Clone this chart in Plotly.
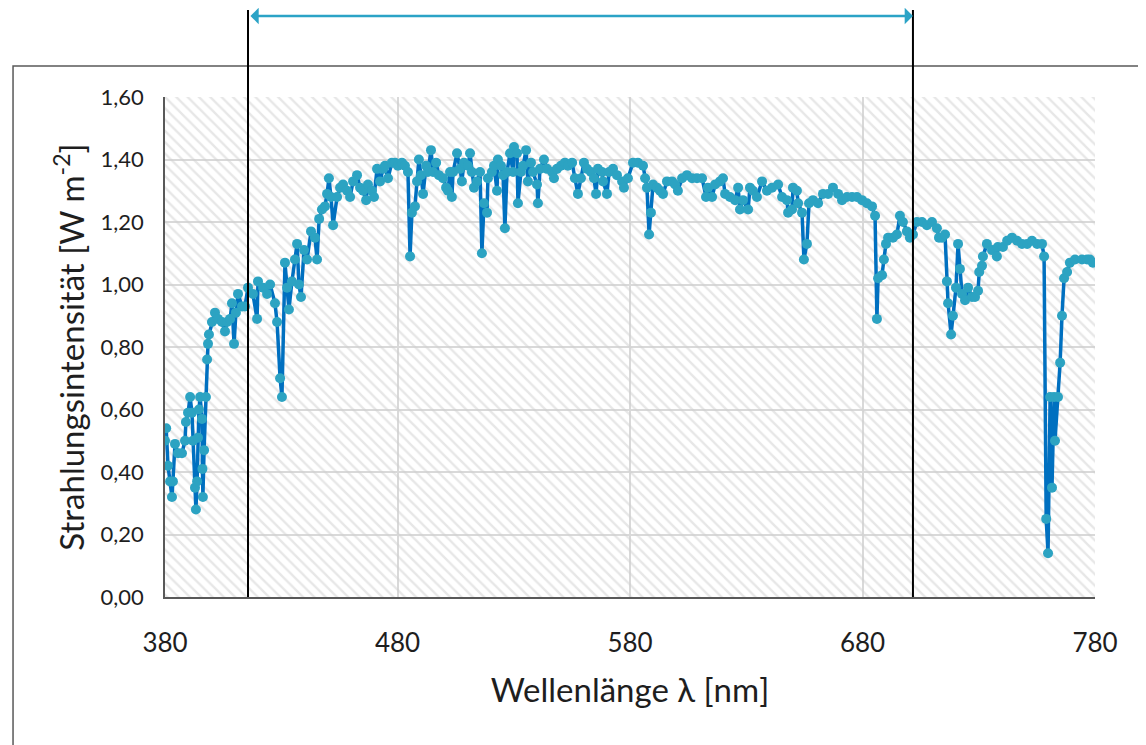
import plotly.graph_objects as go

# Wavelength [nm] and radiation intensity [W m^-2]
wavelength = [
    380.0, 380.5, 381.3, 382.2, 383.0, 383.4, 384.3, 385.6, 387.3, 388.6, 389.0, 389.9,
    390.8, 391.6, 392.0, 392.9, 393.3, 393.8, 394.2, 394.6, 395.1, 395.9, 396.1, 396.3,
    396.8, 397.6, 398.1, 398.5, 398.9, 400.2, 401.5, 402.8, 404.5, 405.8, 406.7, 408.0,
    408.8, 409.7, 410.5, 411.4, 413.1, 414.4, 415.7, 417.8, 419.6, 420.0, 422.2, 423.9,
    425.2, 427.3, 428.2, 429.5, 430.3, 431.6, 432.5, 433.3, 434.6, 435.9, 436.8, 437.6,
    438.5, 439.8, 441.1, 442.8, 444.5, 445.4, 446.3, 447.5, 448.8, 449.7, 450.5, 451.4,
    452.3, 454.0, 455.3, 456.6, 458.3, 459.6, 460.9, 462.6, 463.9, 465.2, 466.5, 467.3,
    469.0, 469.9, 471.2, 472.5, 473.8, 474.6, 475.9, 477.6, 478.9, 480.2, 481.9, 483.2,
    484.5, 485.4, 486.2, 487.5, 488.4, 489.2, 490.1, 491.0, 492.3, 493.1, 494.4, 495.3,
    496.6, 497.8, 499.6, 500.9, 501.7, 502.6, 503.4, 503.9, 505.6, 506.9, 507.7, 508.6,
    510.3, 511.2, 512.0, 512.9, 514.2, 515.5, 516.3, 517.2, 518.5, 518.9, 520.6, 521.5,
    522.8, 523.2, 524.5, 525.4, 526.2, 527.1, 528.4, 529.7, 530.1, 531.4, 531.8, 533.1,
    534.0, 535.3, 536.1, 537.4, 538.3, 540.0, 540.4, 541.3, 543.0, 544.3, 546.5, 547.3,
    548.6, 550.3, 552.0, 553.3, 555.1, 556.3, 557.6, 558.9, 560.2, 561.5, 563.2, 564.5,
    565.4, 566.2, 568.0, 568.4, 570.1, 571.0, 572.7, 574.4, 576.6, 577.4, 579.1, 581.3,
    583.4, 585.6, 586.5, 587.3, 588.2, 589.0, 589.9, 591.6, 592.9, 594.2, 595.9, 598.1,
    599.4, 600.6, 602.4, 604.5, 606.7, 608.8, 611.0, 612.7, 613.5, 615.3, 616.6, 618.7,
    620.0, 620.9, 623.0, 625.2, 626.5, 627.3, 628.6, 630.8, 631.6, 632.9, 634.6, 636.8,
    638.9, 641.1, 643.7, 645.4, 647.5, 648.0, 649.7, 650.1, 651.8, 652.3, 654.0, 654.8,
    656.1, 657.0, 658.7, 660.9, 663.0, 665.2, 667.3, 669.5, 671.2, 673.3, 675.5, 677.6,
    679.8, 681.9, 684.1, 685.4, 686.2, 686.7, 688.4, 689.2, 690.1, 691.0, 693.1, 694.8,
    696.1, 697.4, 699.1, 700.4, 701.7, 703.4, 705.6, 707.7, 709.9, 712.0, 712.9, 714.2,
    715.5, 716.3, 716.8, 718.1, 718.9, 720.2, 721.1, 721.9, 722.8, 724.1, 725.4, 727.1,
    728.4, 729.7, 730.2, 731.4, 731.8, 733.5, 735.7, 737.8, 738.2, 740.4, 742.2, 744.3,
    746.5, 748.6, 750.8, 752.9, 755.1, 757.2, 758.1, 759.0, 759.8, 760.7, 761.5, 762.4,
    762.8, 764.1, 765.0, 765.8, 766.7, 768.0, 769.2, 771.4, 774.4, 776.6, 777.8, 779.1,
]
intensity = [
    0.50, 0.54, 0.42, 0.37, 0.32, 0.37, 0.49, 0.46, 0.46, 0.50, 0.56, 0.59,
    0.64, 0.59, 0.50, 0.35, 0.28, 0.37, 0.51, 0.60, 0.64, 0.57, 0.41, 0.32,
    0.47, 0.64, 0.76, 0.81, 0.84, 0.88, 0.91, 0.89, 0.88, 0.85, 0.88, 0.89,
    0.94, 0.81, 0.91, 0.97, 0.93, 0.93, 0.99, 0.97, 0.89, 1.01, 0.99, 0.97,
    1.00, 0.94, 0.88, 0.70, 0.64, 1.07, 0.99, 0.92, 1.01, 1.08, 1.13, 1.00,
    0.96, 1.11, 1.08, 1.17, 1.15, 1.08, 1.21, 1.24, 1.25, 1.29, 1.34, 1.28,
    1.19, 1.28, 1.31, 1.32, 1.30, 1.28, 1.33, 1.35, 1.31, 1.30, 1.27, 1.32,
    1.30, 1.28, 1.37, 1.33, 1.37, 1.38, 1.34, 1.39, 1.39, 1.38, 1.39, 1.38,
    1.36, 1.09, 1.23, 1.25, 1.33, 1.40, 1.35, 1.29, 1.38, 1.36, 1.43, 1.36,
    1.39, 1.35, 1.34, 1.31, 1.30, 1.36, 1.28, 1.36, 1.42, 1.37, 1.33, 1.39,
    1.38, 1.42, 1.36, 1.31, 1.33, 1.36, 1.10, 1.26, 1.23, 1.34, 1.36, 1.38,
    1.30, 1.40, 1.38, 1.35, 1.18, 1.36, 1.42, 1.36, 1.44, 1.42, 1.26, 1.36,
    1.38, 1.43, 1.33, 1.39, 1.36, 1.32, 1.26, 1.37, 1.40, 1.37, 1.36, 1.34,
    1.37, 1.38, 1.39, 1.38, 1.39, 1.34, 1.29, 1.34, 1.39, 1.37, 1.36, 1.34,
    1.29, 1.37, 1.36, 1.33, 1.29, 1.36, 1.37, 1.35, 1.33, 1.31, 1.34, 1.39,
    1.39, 1.38, 1.34, 1.31, 1.16, 1.23, 1.32, 1.31, 1.30, 1.29, 1.33, 1.33,
    1.32, 1.30, 1.34, 1.35, 1.34, 1.34, 1.34, 1.28, 1.31, 1.28, 1.32, 1.33,
    1.34, 1.29, 1.28, 1.27, 1.31, 1.24, 1.27, 1.24, 1.31, 1.30, 1.28, 1.33,
    1.30, 1.31, 1.32, 1.28, 1.27, 1.23, 1.24, 1.31, 1.30, 1.26, 1.23, 1.08,
    1.13, 1.26, 1.27, 1.26, 1.29, 1.29, 1.31, 1.29, 1.27, 1.28, 1.28, 1.28,
    1.27, 1.26, 1.25, 1.22, 0.89, 1.02, 1.03, 1.08, 1.13, 1.15, 1.15, 1.16,
    1.22, 1.20, 1.17, 1.15, 1.16, 1.20, 1.20, 1.19, 1.20, 1.18, 1.15, 1.15,
    1.16, 1.01, 0.94, 0.84, 0.90, 0.99, 1.13, 1.05, 0.97, 0.95, 0.99, 0.96,
    0.96, 0.98, 1.04, 1.06, 1.09, 1.13, 1.11, 1.09, 1.12, 1.12, 1.14, 1.15,
    1.14, 1.13, 1.13, 1.14, 1.13, 1.13, 1.09, 0.25, 0.14, 0.64, 0.35, 0.64,
    0.50, 0.64, 0.75, 0.90, 1.02, 1.04, 1.07, 1.08, 1.08, 1.08, 1.08, 1.07,
]

x_ticks = [380, 480, 580, 680, 780]
y_ticks = [0.0, 0.2, 0.4, 0.6, 0.8, 1.0, 1.2, 1.4, 1.6]
x_range = [380, 780]
y_range = [0, 1.6]
range_marks = [415.7, 701.7]  # bounds of the marked (visible) range

FONT = "Lato, 'Open Sans', sans-serif"
TXT = "#1e1e1e"

fig = go.Figure()

# hatched plot-area background
fig.add_trace(go.Scatter(
    x=[x_range[0], x_range[1], x_range[1], x_range[0], x_range[0]],
    y=[y_range[0], y_range[0], y_range[1], y_range[1], y_range[0]],
    mode="lines", fill="toself", line=dict(width=0),
    fillcolor="rgba(0,0,0,0)",
    fillpattern=dict(shape="\\", fgcolor="#cfcfcf", bgcolor="rgba(0,0,0,0)",
                     size=8, solidity=0.3),
    hoverinfo="skip", showlegend=False,
))

fig.add_trace(go.Scatter(
    x=wavelength, y=intensity, mode="lines+markers",
    line=dict(color="#0070C0", width=3.5),
    marker=dict(color="#2CA3C2", size=10),
    showlegend=False,
))

shapes = [
    # outer chart frame
    dict(type="rect", xref="paper", yref="paper", x0=-0.1634, x1=1.08,
         y0=-0.34, y1=1.062, line=dict(color="#595959", width=1.5), layer="below"),
]
for xm in range_marks:
    shapes.append(dict(type="line", xref="x", yref="paper", x0=xm, x1=xm,
                       y0=0, y1=1.174, line=dict(color="#000000", width=2)))

fig.update_layout(
    width=1138, height=737,
    margin=dict(l=157, r=51, t=89, b=148),
    paper_bgcolor="white", plot_bgcolor="white",
    separators=",.",
    font=dict(family=FONT, color=TXT),
    shapes=shapes,
    annotations=[dict(
        xref="x", yref="paper", axref="x", ayref="pixel",
        x=range_marks[1], y=1.162, ax=range_marks[0] + 0.4, ay=0,
        text="", showarrow=True, arrowhead=1, startarrowhead=1,
        arrowside="end+start", arrowsize=1.1, startarrowsize=1.1,
        arrowwidth=2.5, arrowcolor="#2BA3C6",
    )],
    xaxis=dict(
        range=x_range, tickvals=x_ticks, ticks="",
        showline=True, linecolor="#595959", linewidth=1.5,
        showgrid=True, gridcolor="#d9d9d9", gridwidth=2, zeroline=False,
        tickfont=dict(size=26, family=FONT, color=TXT), ticklabelstandoff=22,
        title=dict(text="Wellenlänge λ [nm]", font=dict(size=33, family=FONT, color=TXT),
                   standoff=22),
    ),
    yaxis=dict(
        range=y_range, tickvals=y_ticks, tickformat=".2f", ticks="",
        showline=True, linecolor="#595959", linewidth=1.5,
        showgrid=True, gridcolor="#d9d9d9", gridwidth=2, zeroline=False,
        tickfont=dict(size=22, family=FONT, color=TXT), ticklabelstandoff=15,
        title=dict(text="Strahlungsintensität [W m<sup>-2</sup>]",
                   font=dict(size=33, family=FONT, color=TXT), standoff=6),
    ),
)

fig.write_html("out.html")
